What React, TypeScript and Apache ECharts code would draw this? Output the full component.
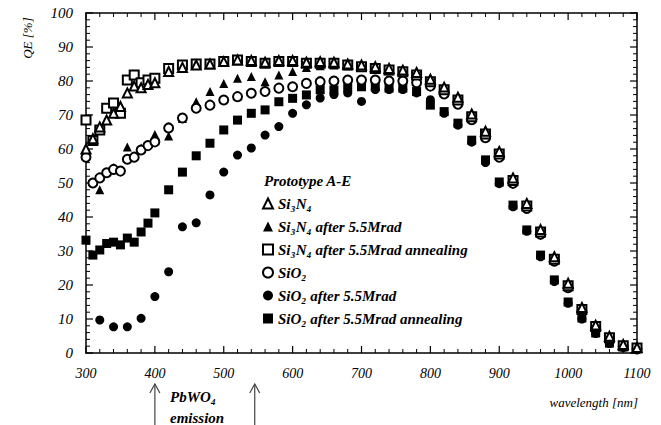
import React, { useEffect, useRef } from "react";
import * as echarts from "echarts";

// wavelengths [nm]
const X_FINE = [300, 310, 320, 330, 340, 350, 360, 370, 380, 390, 400];
const X_FINE_EVEN = [320, 340, 360, 380, 400];
const X_MAIN = [420, 440, 460, 480, 500, 520, 540, 560, 580, 600, 620, 640, 660, 680, 700, 720, 740, 760, 780, 800,
  820, 840, 860, 880, 900, 920, 940, 960, 980, 1000, 1020, 1040, 1060, 1080, 1100];

// QE [%]
const SI3N4_FINE = [60, 63, 66.5, 68.5, 70.5, 72.5, 76.5, 78.5, 78, 79, 79.5];
const SI3N4_MAIN = [82.8, 84, 84.7, 85, 85.7, 86.2, 86, 85.5, 86, 86, 85.5, 85.7, 85.5, 85, 84.7, 84.2, 83.7, 83.2, 82.5, 80.5,
  78.2, 75.2, 70.3, 65.2, 59.3, 51.5, 44, 36.3, 28.3, 20.5, 13.4, 8.2, 4.9, 2.5, 1.6];

const SI3N4_RAD_FINE = [48, 54.5, 60.6, 60.3, 64.3];
const SI3N4_RAD_MAIN = [63.8, 69, 73.9, 76.9, 79.3, 80.8, 81.3, 79.8, 81.8, 82.8, 84, 84.5, 84.7, 84.5, 84, 83.5, 83, 82.5, 81.5, 79.5,
  77, 74, 69, 64, 58, 50.3, 43, 35.3, 27.5, 19.6, 12.6, 7.6, 4.4, 2.0, 1.3];

const SI3N4_ANN_FINE = [68.5, 62.5, 65.6, 72, 73.5, 70.5, 80.3, 81.8, 79.5, 80.3, 80.8];
const SI3N4_ANN_MAIN = [83.7, 84.7, 85, 85, 85.7, 86.2, 85.7, 85.2, 85.7, 85.7, 85.2, 85.2, 85.2, 84.7, 84.2, 83.7, 83.2, 82.7, 81.8, 79.8,
  77.4, 74.4, 69.5, 64.4, 58.5, 50.7, 43.2, 35.6, 27.6, 19.8, 12.8, 7.8, 4.5, 2.1, 1.5];

const SIO2_FINE = [57.6, 50, 51.5, 53, 54, 53.5, 57, 57.6, 59.7, 61, 62.1];
const SIO2_MAIN = [66.2, 69.1, 72, 72.9, 74.4, 75.4, 76.4, 76.9, 77.9, 78.3, 79.3, 79.8, 80, 80.3, 80.3, 80.3, 80, 80, 79.5, 78.5,
  76.2, 73.2, 68.6, 63.3, 57.6, 49.9, 42.5, 34.9, 27, 19.2, 12.3, 7.3, 4.2, 1.9, 1.2];

const SIO2_RAD_FINE = [9.7, 7.7, 7.7, 10.2, 16.6];
const SIO2_RAD_MAIN = [23.9, 37.1, 38.3, 46.5, 53.2, 58.2, 60.3, 64.1, 66.6, 70.5, 73, 75, 76, 76.5, 74, 77.5, 77.5, 77.5, 76.5, 74.5,
  70.5, 67, 62, 56, 49.8, 43, 35.8, 28.3, 21, 14.6, 10, 5.7, 2.8, 1.7, 1.4];

const SIO2_ANN_FINE = [33.2, 28.8, 30.3, 32.2, 32.6, 31.8, 33.8, 32.6, 35.6, 38.2, 41.2];
const SIO2_ANN_MAIN = [48, 53.2, 58, 61.7, 65.6, 68.5, 70.5, 71.5, 73.9, 74.9, 75.9, 77.4, 77.4, 78, 78.3, 78.3, 77.9, 77.9, 76.9, 72.9,
  71, 67.6, 62.6, 56.8, 50.3, 43.5, 36.2, 28.8, 21.5, 15, 10.3, 5.9, 2.9, 1.8, 1.5];

const NAMES = [
  "Si₃N₄",
  "Si₃N₄ after 5.5Mrad",
  "Si₃N₄ after 5.5Mrad annealing",
  "SiO₂",
  "SiO₂ after 5.5Mrad",
  "SiO₂ after 5.5Mrad annealing",
];
const SYMBOLS = ["emptyTriangle", "triangle", "emptyRect", "emptyCircle", "circle", "rect"];

// tick labels
const X_TICK_LABELS = [300, 400, 500, 600, 700, 800, 900, 1000, 1100];
const Y_TICK_LABELS = [0, 10, 20, 30, 40, 50, 60, 70, 80, 90, 100];
const X_MINOR_STEP = 20;
const Y_MINOR_STEP = 2;
const ARROW_NM = [400, 545];

const FONT = "Liberation Serif";

function pairs(xs: number[], ys: number[]) {
  return xs.map((x, i) => [x, ys[i]]);
}

function makeAxis(kind: "x" | "y", position: string) {
  const isX = kind === "x";
  const ticks = isX ? X_TICK_LABELS : Y_TICK_LABELS;
  return {
    type: "value",
    position,
    min: ticks[0],
    max: ticks[ticks.length - 1],
    interval: ticks[1] - ticks[0],
    axisLine: { show: true, onZero: false, lineStyle: { color: "#000", width: 1.5 } },
    axisTick: { show: false },
    minorTick: { show: false },
    splitLine: { show: false },
    axisLabel: { show: false },
  };
}

export default function App() {
  const ref = useRef<HTMLDivElement>(null);

  useEffect(() => {
    if (!ref.current) return;
    const chart = echarts.init(ref.current, null, { renderer: "svg" });

    const seriesData = [
      pairs(X_FINE, SI3N4_FINE).concat(pairs(X_MAIN, SI3N4_MAIN)),
      pairs(X_FINE_EVEN, SI3N4_RAD_FINE).concat(pairs(X_MAIN, SI3N4_RAD_MAIN)),
      pairs(X_FINE, SI3N4_ANN_FINE).concat(pairs(X_MAIN, SI3N4_ANN_MAIN)),
      pairs(X_FINE, SIO2_FINE).concat(pairs(X_MAIN, SIO2_MAIN)),
      pairs(X_FINE_EVEN, SIO2_RAD_FINE).concat(pairs(X_MAIN, SIO2_RAD_MAIN)),
      pairs(X_FINE, SIO2_ANN_FINE).concat(pairs(X_MAIN, SIO2_ANN_MAIN)),
    ];
    const drawOrder = [5, 4, 1, 3, 2, 0];

    const option: any = {
      animation: false,
      backgroundColor: "#fff",
      grid: { left: 86, right: 24, top: 13, bottom: 72 },
      xAxis: [makeAxis("x", "bottom"), makeAxis("x", "top")],
      yAxis: [makeAxis("y", "left"), makeAxis("y", "right")],
      legend: {
        orient: "vertical",
        left: 257,
        top: 191,
        itemWidth: 10,
        itemHeight: 10,
        itemGap: 8,
        data: NAMES,
        textStyle: { color: "#000", fontFamily: FONT, fontStyle: "italic", fontWeight: "bold", fontSize: 15 },
      },
      series: drawOrder.map((i) => ({
        type: "scatter",
        name: NAMES[i],
        symbol: SYMBOLS[i],
        symbolSize: 9,
        data: seriesData[i],
        itemStyle: { color: "#000", opacity: 1 },
      })),
    };
    chart.setOption(option);

    const px = (v: number) => chart.convertToPixel({ xAxisIndex: 0 }, v) as number;
    const py = (v: number) => chart.convertToPixel({ yAxisIndex: 0 }, v) as number;
    const xMin = X_TICK_LABELS[0], xMax = X_TICK_LABELS[X_TICK_LABELS.length - 1];
    const yMin = Y_TICK_LABELS[0], yMax = Y_TICK_LABELS[Y_TICK_LABELS.length - 1];
    const left = px(xMin), right = px(xMax), bottom = py(yMin), top = py(yMax);

    const els: any[] = [];
    const tickStyle = (w: number) => ({ stroke: "#000", lineWidth: w });

    // x ticks (bottom & top, pointing inward)
    for (let v = xMin; v <= xMax; v += X_MINOR_STEP) {
      const major = X_TICK_LABELS.indexOf(v) >= 0;
      const len = major ? 7 : 4;
      const x = px(v);
      els.push({ type: "line", silent: true, shape: { x1: x, y1: bottom, x2: x, y2: bottom - len }, style: tickStyle(major ? 1.2 : 1) });
      els.push({ type: "line", silent: true, shape: { x1: x, y1: top, x2: x, y2: top + len }, style: tickStyle(major ? 1.2 : 1) });
    }
    X_TICK_LABELS.forEach((v) => {
      els.push({
        type: "text",
        silent: true,
        x: px(v),
        y: bottom + 20,
        style: { text: String(v), fill: "#000", fontFamily: FONT, fontStyle: "italic", fontSize: 14, align: "center", verticalAlign: "middle" },
      });
    });

    // y ticks (left & right, pointing inward)
    for (let v = yMin; v <= yMax; v += Y_MINOR_STEP) {
      const major = Y_TICK_LABELS.indexOf(v) >= 0;
      const len = major ? 7 : 4;
      const y = py(v);
      els.push({ type: "line", silent: true, shape: { x1: left, y1: y, x2: left + len, y2: y }, style: tickStyle(major ? 1.2 : 1) });
      els.push({ type: "line", silent: true, shape: { x1: right, y1: y, x2: right - len, y2: y }, style: tickStyle(major ? 1.2 : 1) });
    }
    Y_TICK_LABELS.forEach((v) => {
      els.push({
        type: "text",
        silent: true,
        x: left - 13,
        y: py(v),
        style: { text: String(v), fill: "#000", fontFamily: FONT, fontStyle: "italic", fontSize: 15, align: "right", verticalAlign: "middle" },
      });
    });

    // PbWO4 emission arrows
    ARROW_NM.forEach((v) => {
      const x = px(v);
      els.push({ type: "line", silent: true, shape: { x1: x, y1: 384, x2: x, y2: 425 }, style: { stroke: "#444", lineWidth: 1.2 } });
      els.push({
        type: "polyline",
        silent: true,
        shape: { points: [[x - 5, 393], [x, 384], [x + 5, 393]] },
        style: { stroke: "#444", lineWidth: 1.2, fill: null },
      });
    });

    els.push(
      {
        type: "text",
        left: 264,
        top: 173,
        style: { text: "Prototype A-E", fill: "#000", fontFamily: FONT, fontStyle: "italic", fontWeight: "bold", fontSize: 15 },
      },
      {
        type: "text",
        x: 27,
        y: 38,
        rotation: Math.PI / 2,
        style: { text: "QE [%]", fill: "#000", fontFamily: FONT, fontStyle: "italic", fontSize: 13, align: "center", verticalAlign: "middle" },
      },
      {
        type: "text",
        x: 638,
        y: 402,
        style: { text: "wavelength [nm]", fill: "#000", fontFamily: FONT, fontStyle: "italic", fontSize: 13, align: "right", verticalAlign: "middle" },
      },
      {
        type: "text",
        x: 170,
        y: 397,
        style: { text: "PbWO₄", fill: "#000", fontFamily: FONT, fontStyle: "italic", fontWeight: "bold", fontSize: 15, verticalAlign: "middle" },
      },
      {
        type: "text",
        x: 170,
        y: 418,
        style: { text: "emission", fill: "#000", fontFamily: FONT, fontStyle: "italic", fontWeight: "bold", fontSize: 15, verticalAlign: "middle" },
      }
    );

    chart.setOption({ graphic: els });

    return () => chart.dispose();
  }, []);

  return (
    <div
      ref={ref}
      style={{ position: "fixed", left: 0, top: 0, width: 661, height: 425, background: "#fff" }}
    />
  );
}
